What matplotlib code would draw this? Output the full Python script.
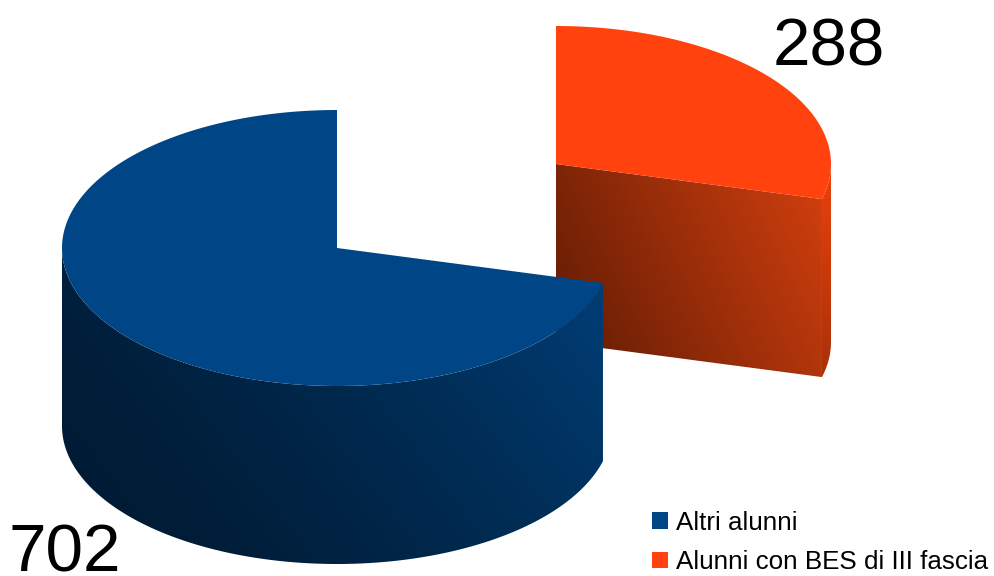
import matplotlib
matplotlib.use("Agg")
import matplotlib.pyplot as plt
from matplotlib.patches import Polygon, Patch
import numpy as np

labels = ["Altri alunni", "Alunni con BES di III fascia"]
values = [702, 288]

top_colors = ["#004586", "#ff420e"]

plt.rcParams["font.family"] = ["Liberation Sans", "DejaVu Sans"]

fig = plt.figure(figsize=(9.94, 5.76), dpi=100)
ax = fig.add_axes([0, 0, 1, 1])
ax.axis("off")

rx, ry = 275, 138
depth = 178
centers = [(337, 248), (556, 164)]

# slices start at 12 o'clock, first one runs counter clockwise
angles = np.array(values) / sum(values) * 360
split = 90 + angles[0]


def arc(c, t0, t1, dy=0):
    t = np.radians(np.linspace(t0, t1, 200))
    return np.column_stack([c[0] + rx * np.cos(t), c[1] - ry * np.sin(t) + dy])


def gradient(poly, box, c0, c1, direction, z, power=1.0):
    # linear shading clipped to poly
    x0, x1, y0, y1 = box
    xx, yy = np.meshgrid(np.linspace(x0, x1, 300), np.linspace(y0, y1, 300))
    s = (xx - x0) / (x1 - x0) * direction[0] + (y1 - yy) / (y1 - y0) * direction[1]
    s = np.clip((s - s.min()) / (s.max() - s.min()), 0, 1)[..., None] ** power
    img = np.array(c0) + (np.array(c1) - np.array(c0)) * s
    im = ax.imshow(img / 255, extent=(x0, x1, y1, y0), aspect="auto", zorder=z)
    im.set_clip_path(Polygon(poly, transform=ax.transData))


# orange slice
c = centers[1]
edge = arc(c, split, 360)
p_end = edge[0]
cut_face = np.array([c, p_end, p_end + [0, depth], [c[0], c[1] + depth]])
gradient(cut_face, (c[0], p_end[0], c[1], p_end[1] + depth), (92, 26, 4), (212, 64, 14), (1.0, 0.4), 1)
strip = np.vstack([edge, (edge + [0, depth])[::-1]])
gradient(strip, (p_end[0], c[0] + rx, c[1], p_end[1] + depth), (235, 66, 12), (170, 48, 8), (0.0, -1.0), 1)
ax.add_patch(Polygon(np.vstack([[c], arc(c, split, 450)]), fc=top_colors[1], ec="none", zorder=2))

# blue slice
c = centers[0]
edge = arc(c, 180, split)
wall = np.vstack([edge, (edge + [0, depth])[::-1]])
gradient(wall, (c[0] - rx, edge[-1][0], c[1], c[1] + ry + depth), (0, 26, 50), (0, 64, 122), (1.0, 0.45), 3, power=1.5)
ax.add_patch(Polygon(np.vstack([[c], arc(c, 90, split)]), fc=top_colors[0], ec="none", zorder=4))

ax.set_xlim(0, 994)
ax.set_ylim(576, 0)

ax.text(829, 48, str(values[1]), fontsize=48.5, ha="center", va="center", color="black", zorder=5)
ax.text(65, 548, str(values[0]), fontsize=48.5, ha="center", va="center_baseline", color="black", zorder=5)

handles = [Patch(fc=col, ec="none") for col in top_colors]
ax.legend(handles, labels, loc="upper left", bbox_to_anchor=(652, 511), bbox_transform=ax.transData,
          frameon=False, fontsize=18.7, borderpad=0, borderaxespad=0, handlelength=0.62, handleheight=0.62,
          handletextpad=0.31, labelspacing=0.58)

fig.savefig("out.png", dpi=100)
